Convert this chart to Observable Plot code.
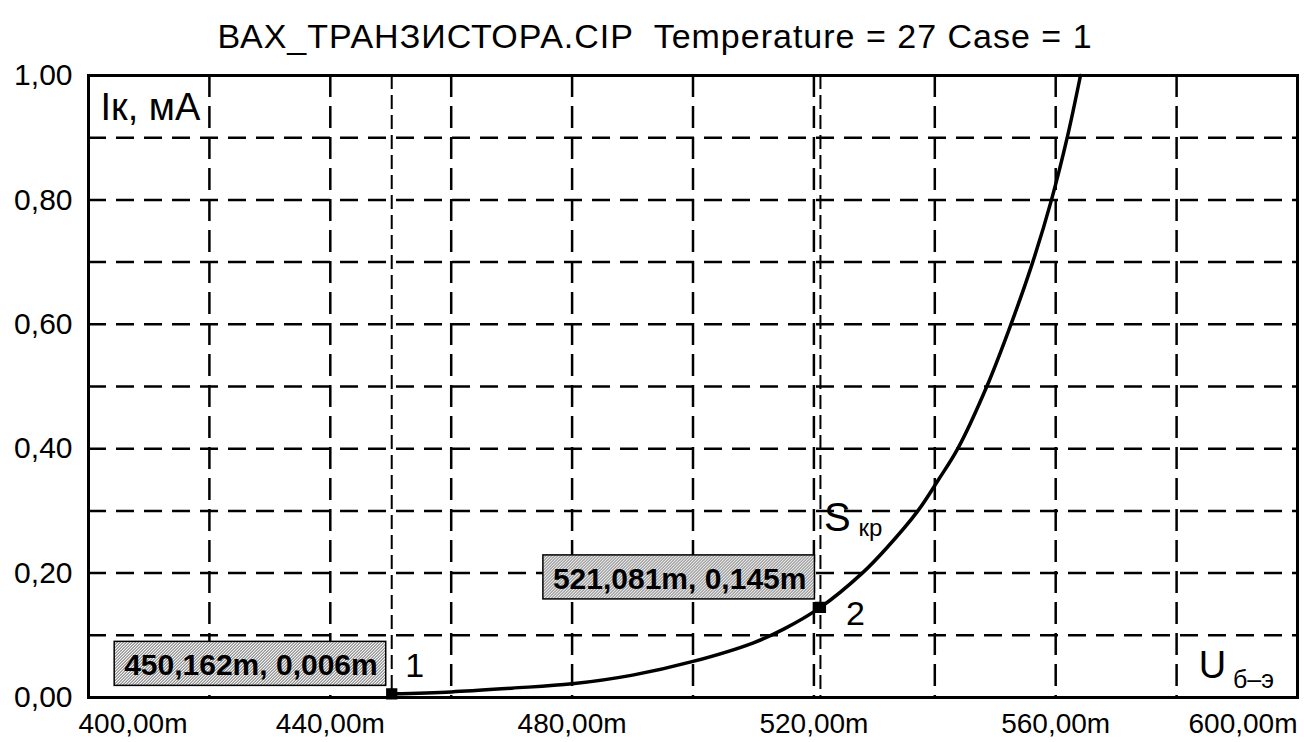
<!DOCTYPE html>
<html>
<head>
<meta charset="utf-8">
<script src="https://cdn.jsdelivr.net/npm/d3@7"></script>
<script src="https://cdn.jsdelivr.net/npm/@observablehq/plot@0.6"></script>
<style>
  body { margin: 0; background: #fff; }
  svg { display: block; }
  svg text { white-space: pre; }
</style>
</head>
<body>
<div id="chart"></div>
<script>
// Collector current vs. base-emitter voltage of the transistor (MicroCap run)
const title = "ВАХ_ТРАНЗИСТОРА.CIP  Temperature = 27 Case = 1";

// Curve samples: U б-э in mV, I к in mA
const ube = [450.162, 460, 470, 480, 490, 500, 510, 515, 521.081, 528.0, 532, 537.2, 540.6, 543.8, 548.6, 552.6, 556.2, 559.3, 561.9, 564.1];
const ik  = [0.006, 0.009, 0.015, 0.022, 0.036, 0.058, 0.088, 0.110, 0.145, 0.20, 0.24, 0.30, 0.35, 0.40, 0.50, 0.60, 0.70, 0.80, 0.90, 1.00];

// Cursor readouts
const markerU = [450.162, 521.081];
const markerI = [0.006, 0.145];
const markerNames = ["1", "2"];

// Axes
const xTicks = [400, 440, 480, 520, 560, 600];
const yTicks = [0, 0.2, 0.4, 0.6, 0.8, 1.0];
const xGrid = [420, 440, 460, 480, 500, 520, 540, 560, 580];
const yGrid = [0.1, 0.2, 0.3, 0.4, 0.5, 0.6, 0.7, 0.8, 0.9];

const curve = ube.map((v, k) => ({v, i: ik[k]}));
const markers = markerU.map((v, k) => ({v, i: markerI[k], name: markerNames[k]}));

const comma = (d, n) => d.toFixed(n).replace(".", ",");
const fmtX = d => comma(d, 2) + "m";
const fmtY = d => comma(d, 2);
const readout = d => `${comma(d.v, 3)}m, ${comma(d.i, 3)}m`;

const dashedH = {stroke: "black", strokeWidth: 2.5, strokeDasharray: "18,10"};
const dashedV = {stroke: "black", strokeWidth: 2.5, strokeDasharray: "22,9"};
const xAxisStyle = {tickSize: 0, tickPadding: 16, tickFormat: fmtX, fontSize: 28, label: null};

const plot = Plot.plot({
  width: 1304,
  height: 742,
  marginLeft: 88,
  marginRight: 7,
  marginTop: 75,
  marginBottom: 45,
  style: {fontFamily: "'Liberation Sans', Arial, sans-serif", fontSize: "30px", color: "black", background: "white"},
  x: {domain: [400, 600], axis: null},
  y: {domain: [0, 1], axis: null},
  marks: [
    Plot.ruleX(xGrid, dashedV),
    Plot.ruleY(yGrid, dashedH),
    Plot.ruleX(markers, {x: "v", stroke: "black", strokeWidth: 2, strokeDasharray: "14,6"}),
    Plot.line(curve, {x: "v", y: "i", stroke: "black", strokeWidth: 3.5, curve: "catmull-rom"}),
    Plot.frame({stroke: "black", strokeWidth: 3}),

    Plot.axisX(xTicks.slice(1, -1), xAxisStyle),
    Plot.axisX(xTicks.slice(0, 1), {...xAxisStyle, textAnchor: "start", dx: -10}),
    Plot.axisX(xTicks.slice(-1), {...xAxisStyle, textAnchor: "end"}),
    Plot.axisY(yTicks, {tickSize: 0, tickPadding: 16, tickFormat: fmtY, fontSize: 30, label: null}),

    // axis names inside the frame
    Plot.text(["Iк, мА"], {frameAnchor: "top-left", textAnchor: "start", lineAnchor: "middle", dx: 12, dy: 32, fontSize: 38}),
    Plot.text(["U"], {frameAnchor: "bottom-right", textAnchor: "middle", lineAnchor: "middle", dx: -85, dy: -32, fontSize: 38}),
    Plot.text(["б–э"], {frameAnchor: "bottom-right", textAnchor: "middle", lineAnchor: "middle", dx: -44, dy: -18, fontSize: 25}),

    // title
    Plot.text([title], {frameAnchor: "top", lineAnchor: "middle", dx: -38, dy: -38, fontSize: 34, ariaDescription: "title"}),

    // cursor points and readouts
    Plot.dot(markers, {x: "v", y: "i", symbol: "square", r: 5.5, fill: "black", stroke: "black"}),
    Plot.text(markers, {x: "v", y: "i", text: readout, textAnchor: "end", lineAnchor: "middle", dx: -14, dy: -28, fontSize: 30, fontWeight: "bold", ariaDescription: "readout"}),
    Plot.text(markers.slice(0, 1), {x: "v", y: "i", text: "name", lineAnchor: "middle", dx: 23, dy: -28, fontSize: 34}),
    Plot.text(markers.slice(1), {x: "v", y: "i", text: "name", lineAnchor: "middle", dx: 35, dy: 7, fontSize: 34}),

    // slope annotation near cursor 2
    Plot.text(markers.slice(1), {x: "v", y: "i", text: () => "S", lineAnchor: "middle", dx: 17, dy: -89, fontSize: 40}),
    Plot.text(markers.slice(1), {x: "v", y: "i", text: () => "кр", lineAnchor: "middle", dx: 50, dy: -79, fontSize: 24})
  ]
});

document.getElementById("chart").append(plot);

const svg = d3.select(plot);
svg.selectAll('g[aria-description="title"] text').style("letter-spacing", "1px");

// stippled background behind cursor readouts
const svgNS = "http://www.w3.org/2000/svg";
const defs = svg.insert("defs", ":first-child");
const pat = defs.append("pattern")
  .attr("id", "stipple").attr("width", 3).attr("height", 3)
  .attr("patternUnits", "userSpaceOnUse");
pat.append("rect").attr("width", 3).attr("height", 3).attr("fill", "#fff");
[[0, 0], [1, 2], [2, 1]].forEach(([a, b]) =>
  pat.append("rect").attr("x", a).attr("y", b).attr("width", 1).attr("height", 1).attr("fill", "#444"));

svg.selectAll('g[aria-description="readout"] text').each(function() {
  const b = this.getBBox();
  const r = document.createElementNS(svgNS, "rect");
  r.setAttribute("x", b.x - 10);
  r.setAttribute("y", b.y - 7);
  r.setAttribute("width", b.width + 18);
  r.setAttribute("height", b.height + 11);
  r.setAttribute("fill", "url(#stipple)");
  r.setAttribute("stroke", "black");
  r.setAttribute("stroke-width", 1.5);
  const t = this.getAttribute("transform");
  if (t) r.setAttribute("transform", t);
  this.parentNode.insertBefore(r, this);
});
</script>
</body>
</html>
